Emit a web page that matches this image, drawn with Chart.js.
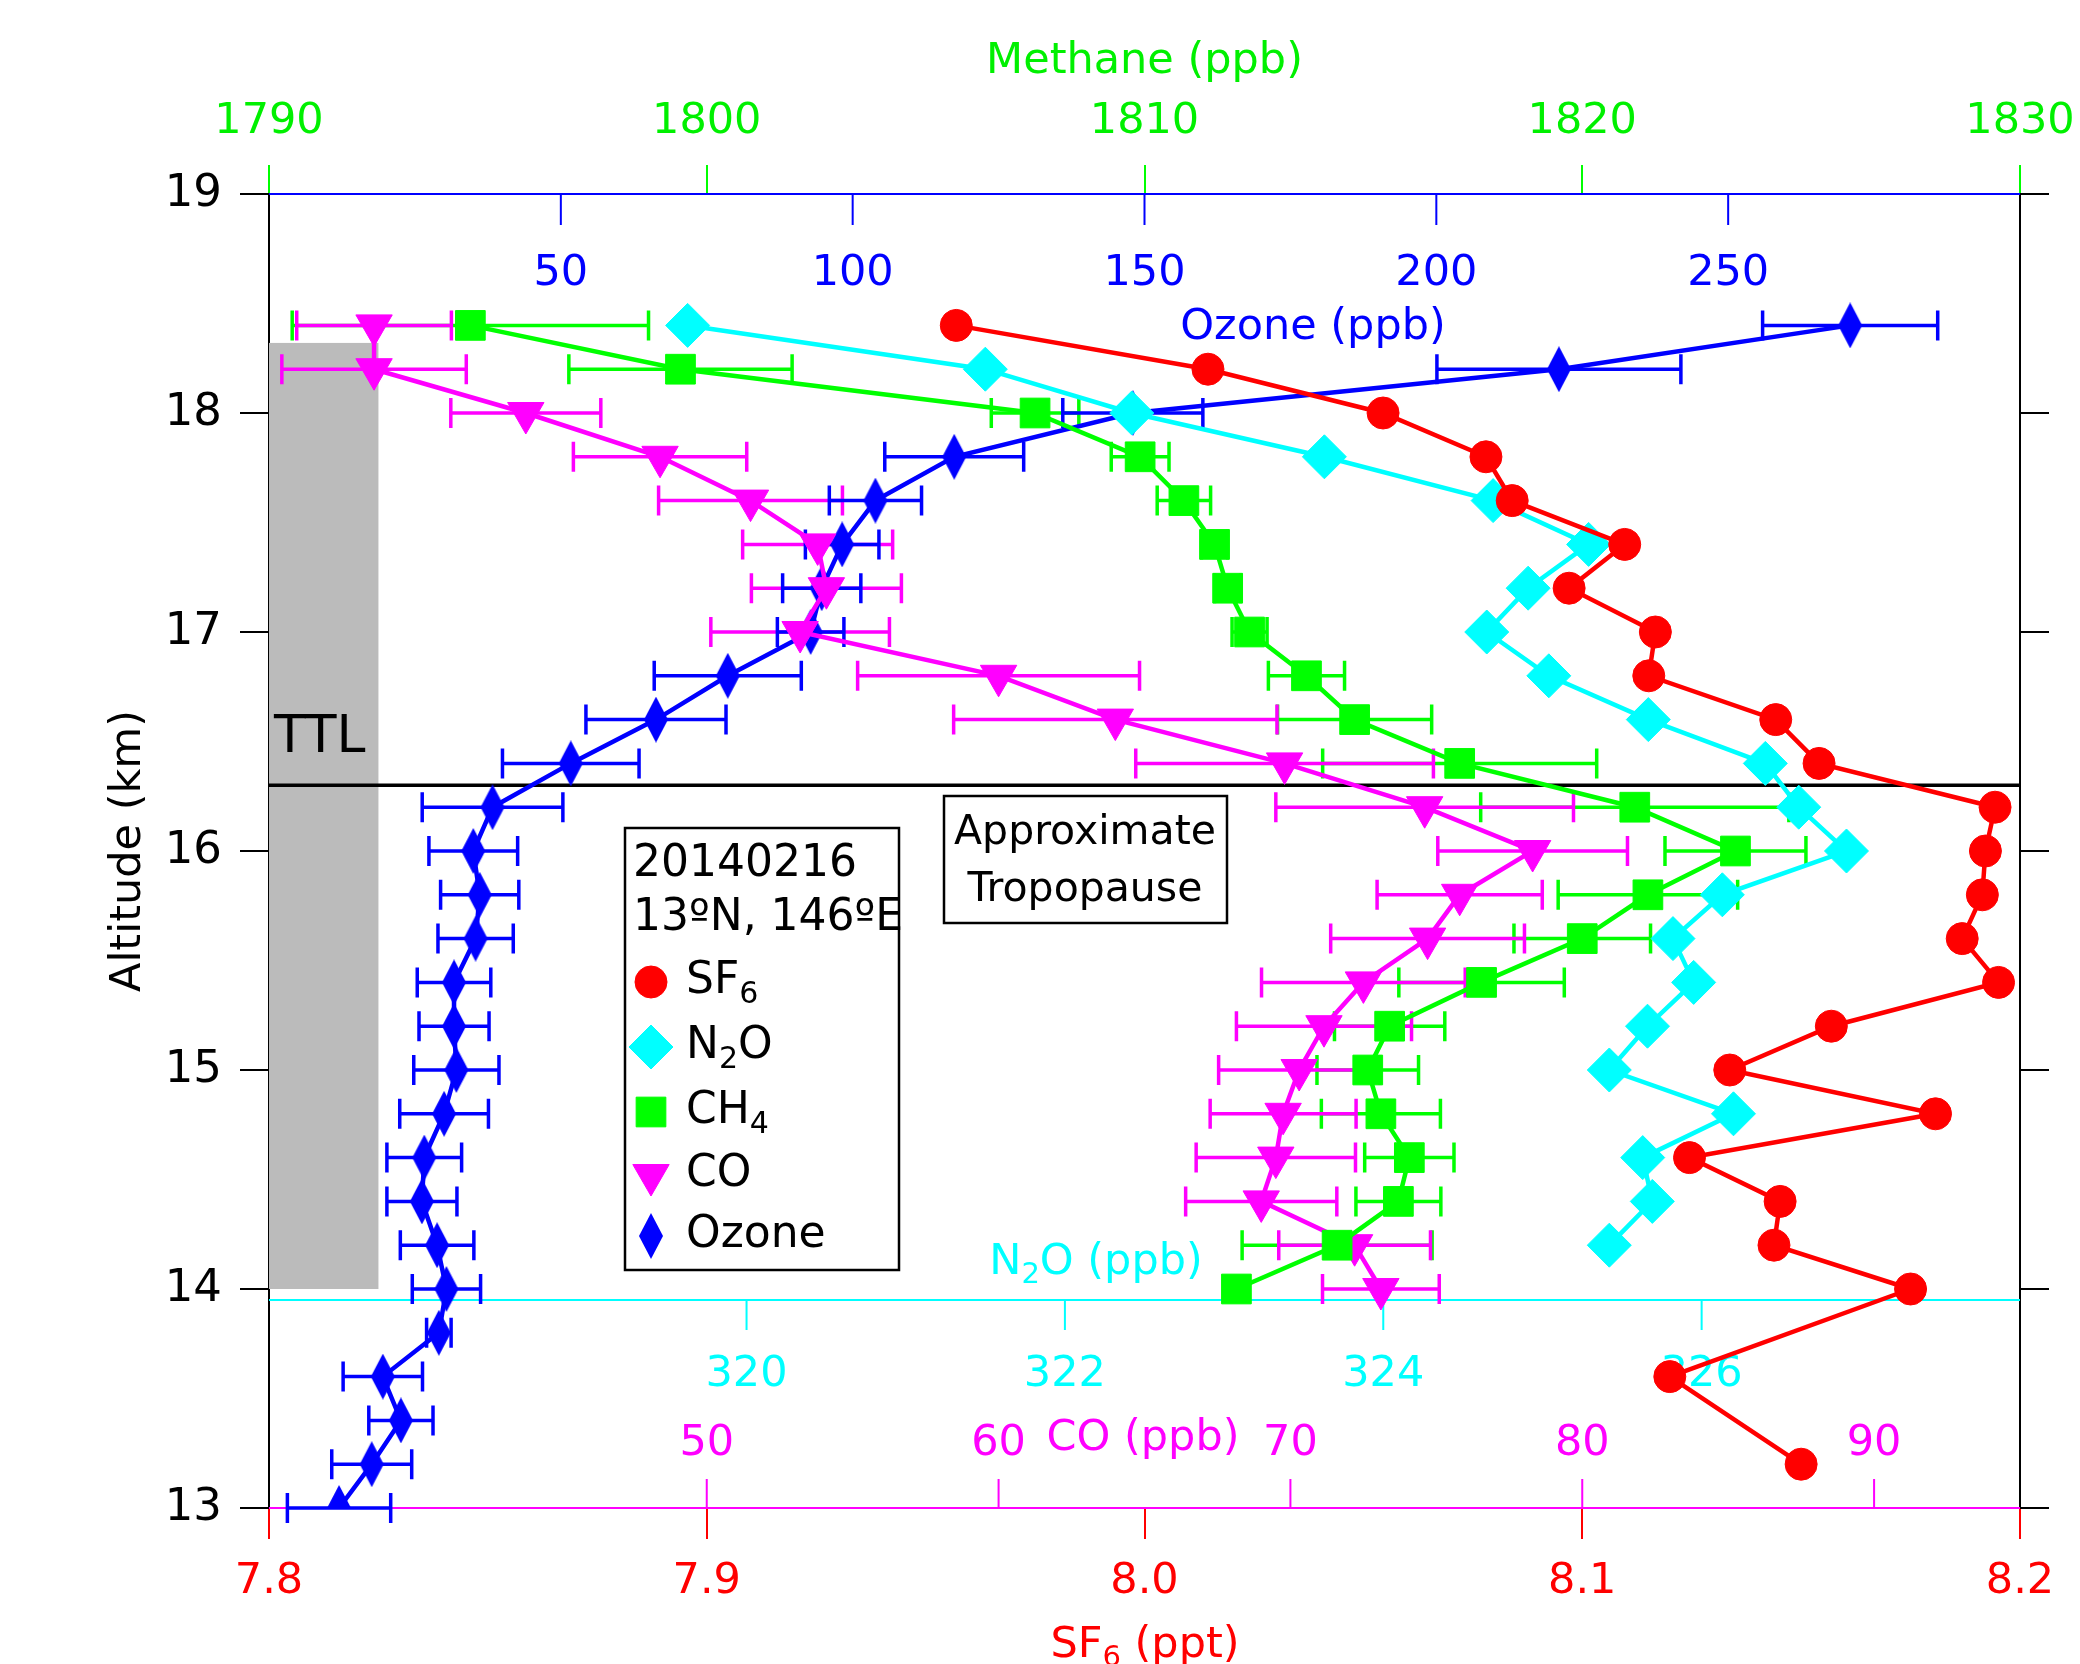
<!DOCTYPE html>
<html><head><meta charset="utf-8">
<script src="https://cdn.jsdelivr.net/npm/chart.js@4.4.1/dist/chart.umd.min.js"></script>
<style>html,body{margin:0;padding:0;background:#fff}#wrap{width:2080px;height:1664px;position:relative}</style>
</head><body><div id="wrap"><canvas id="c" width="2080" height="1664"></canvas></div>
<script>
// ---------------- data ----------------
const altitudes = [18.4,18.2,18.0,17.8,17.6,17.4,17.2,17.0,16.8,16.6,16.4,16.2,16.0,15.8,15.6,15.4,15.2,15.0,14.8,14.6,14.4,14.2,14.0,13.8,13.6,13.4,13.2,13.0];
const sf6 = [7.957,8.0145,8.0545,8.078,8.084,8.1097,8.097,8.1167,8.1152,8.1442,8.1541,8.1943,8.1921,8.1914,8.1868,8.1951,8.1569,8.1337,8.1807,8.1245,8.1452,8.1438,8.175,null,8.12,null,8.15,null];
const n2o = [319.63,321.5,322.42,323.63,324.69,325.29,324.91,324.65,325.04,325.665,326.4,326.61,326.91,326.13,325.82,325.95,325.66,325.42,326.2,325.63,325.69,325.42,null,null,null,null,null,null];
const ch4 = [1794.6,1799.4,1807.5,1809.9,1810.9,1811.6,1811.9,1812.4,1813.7,1814.8,1817.2,1821.2,1823.5,1821.5,1820.0,1817.7,1815.6,1815.1,1815.4,1816.05,1815.8,1814.4,1812.1,null,null,null,null,null];
const ch4Err = [4.07,2.55,1.0,0.66,0.61,0.3,0.3,0.4,0.87,1.76,3.13,3.52,1.61,2.05,1.56,1.89,1.26,1.16,1.36,1.02,0.97,2.17,0,null,null,null,null,null];
const co = [38.6,38.6,43.8,48.4,51.5,53.8,54.1,53.2,60.0,64.0,69.8,74.6,78.3,75.8,74.7,72.5,71.15,70.3,69.75,69.5,69.0,72.2,73.1,null,null,null,null,null];
const coErr = [2.65,3.16,2.57,2.97,3.15,2.57,2.57,3.06,4.83,5.54,5.1,5.1,3.25,2.83,3.32,3.49,3.0,2.76,2.5,2.73,2.59,2.6,2.0,null,null,null,null,null];
const ozone = [270.9,221.0,148.0,117.4,103.9,98.2,94.7,92.8,78.6,66.3,51.7,38.3,35.0,36.1,35.4,31.7,31.7,32.1,30.0,26.6,26.2,28.8,30.4,29.1,19.5,22.6,17.6,12.0];
const ozoneErr = [15.0,20.9,12.0,11.9,7.9,6.3,6.7,5.7,12.6,12.0,11.7,12.05,7.6,6.7,6.45,6.3,6.0,7.3,7.6,6.4,6.0,6.3,5.85,2.1,6.8,5.5,6.85,8.85];

const altitudeTicks = [13,14,15,16,17,18,19];
const methaneTicks = [1790,1800,1810,1820,1830];
const ozoneTicks = [50,100,150,200,250];
const n2oTicks = [320,322,324,326];
const coTicks = [50,60,70,80,90];
const sf6Ticks = [7.8,7.9,8.0,8.1,8.2];

const tropopauseAlt = 16.3;
const n2oAxisAlt = 13.95;
const ttlBand = {sf6From: 7.8, sf6To: 7.825, altFrom: 14.0, altTo: 18.32};

// ---------------- styling ----------------
const FONT = "'DejaVu Sans', sans-serif";
const RED='#ff0000', CYAN='#00ffff', GREEN='#00ff00', MAGENTA='#ff00ff', BLUE='#0000ff';
const TXT_GREEN='#00f000';
Chart.defaults.font.family = FONT;

function pts(vals){ return altitudes.map((a,i)=> vals[i]==null?null:{x:vals[i], y:a}).filter(Boolean); }
function makeDiamond(w,h,color){
  const c=document.createElement('canvas'); c.width=w; c.height=h;
  const g=c.getContext('2d'); g.fillStyle=color; g.beginPath();
  g.moveTo(w/2,0); g.lineTo(w,h/2); g.lineTo(w/2,h); g.lineTo(0,h/2); g.closePath(); g.fill();
  return c;
}
const ozoneMarker = makeDiamond(24,46,BLUE);

function richText(ctx, parts, x, y, size, color, align){
  ctx.save();
  ctx.fillStyle=color; ctx.textBaseline='middle'; ctx.textAlign='left';
  let total=0;
  const widths = parts.map(([t,sub])=>{ ctx.font=(sub?Math.round(size*0.68):size)+'px '+FONT; const w=ctx.measureText(t).width; total+=w; return w; });
  let cx = align==='center'? x-total/2 : (align==='right'? x-total : x);
  parts.forEach(([t,sub],i)=>{ ctx.font=(sub?Math.round(size*0.68):size)+'px '+FONT; ctx.fillText(t, cx, sub? y+size*0.3 : y); cx+=widths[i]; });
  ctx.restore();
}

const seriesStyle = [
  {label:'SF6', vals:sf6, axis:'x', color:RED, style:'circle', r:16, rot:0, name:[['SF',0],['6',1]]},
  {label:'N2O', vals:n2o, axis:'xN2O', color:CYAN, style:'rectRot', r:22, rot:0, name:[['N',0],['2',1],['O',0]]},
  {label:'CH4', vals:ch4, axis:'xCH4', color:GREEN, style:'rect', r:21, rot:0, name:[['CH',0],['4',1]]},
  {label:'CO', vals:co, axis:'xCO', color:MAGENTA, style:'triangle', r:21, rot:180, name:[['CO',0]]},
  {label:'Ozone', vals:ozone, axis:'xO3', color:BLUE, style:ozoneMarker, r:14, rot:0, name:[['Ozone',0]]}
];

const datasets = seriesStyle.map(s=>({
  label:s.label, data:pts(s.vals), xAxisID:s.axis, yAxisID:'y', showLine:true,
  borderColor:s.color, backgroundColor:s.color, borderWidth:4.5,
  pointStyle:s.style, pointRadius:s.r, pointRotation:s.rot,
  pointBackgroundColor:s.color, pointBorderColor:s.color, pointBorderWidth:1
}));

const decor = {
  id:'decor',
  beforeDatasetsDraw(chart){
    const ctx=chart.ctx, a=chart.chartArea, y=chart.scales.y;
    const sx=chart.scales.x;
    ctx.save();
    // TTL band
    ctx.fillStyle='#bbbbbb';
    const bx1=sx.getPixelForValue(ttlBand.sf6From), bx2=sx.getPixelForValue(ttlBand.sf6To);
    const by1=y.getPixelForValue(ttlBand.altTo), by2=y.getPixelForValue(ttlBand.altFrom);
    ctx.fillRect(bx1,by1,bx2-bx1,by2-by1);
    // tropopause
    const ty=y.getPixelForValue(tropopauseAlt);
    ctx.strokeStyle='#000'; ctx.lineWidth=3.5;
    ctx.beginPath(); ctx.moveTo(a.left,ty); ctx.lineTo(a.right,ty); ctx.stroke();
    // ozone axis (top, inside)
    const xo=chart.scales.xO3;
    ctx.strokeStyle=BLUE; ctx.lineWidth=2;
    ctx.beginPath(); ctx.moveTo(a.left,a.top); ctx.lineTo(a.right,a.top);
    ozoneTicks.forEach(v=>{const px=xo.getPixelForValue(v); ctx.moveTo(px,a.top); ctx.lineTo(px,a.top+31);});
    ctx.stroke();
    ctx.fillStyle=BLUE; ctx.font='43px '+FONT; ctx.textAlign='center'; ctx.textBaseline='middle';
    ozoneTicks.forEach(v=>ctx.fillText(String(v), xo.getPixelForValue(v), a.top+80));
    ctx.fillText('Ozone (ppb)', 1313, a.top+134);
    // N2O axis
    const xn=chart.scales.xN2O, ny=y.getPixelForValue(n2oAxisAlt);
    ctx.strokeStyle=CYAN; ctx.lineWidth=2;
    ctx.beginPath(); ctx.moveTo(a.left,ny); ctx.lineTo(a.right,ny);
    n2oTicks.forEach(v=>{const px=xn.getPixelForValue(v); ctx.moveTo(px,ny); ctx.lineTo(px,ny+30);});
    ctx.stroke();
    ctx.fillStyle=CYAN; ctx.font='43px '+FONT;
    n2oTicks.forEach(v=>ctx.fillText(String(v), xn.getPixelForValue(v), ny+75));
    richText(ctx, [['N',0],['2',1],['O (ppb)',0]], 1096, ny-37, 43, CYAN, 'center');
    // CO axis (bottom, inside)
    const xc=chart.scales.xCO;
    ctx.strokeStyle=MAGENTA; ctx.lineWidth=2;
    ctx.beginPath(); ctx.moveTo(a.left,a.bottom); ctx.lineTo(a.right,a.bottom);
    coTicks.forEach(v=>{const px=xc.getPixelForValue(v); ctx.moveTo(px,a.bottom); ctx.lineTo(px,a.bottom-29);});
    ctx.stroke();
    ctx.fillStyle=MAGENTA; ctx.font='43px '+FONT; ctx.textAlign='center';
    coTicks.forEach(v=>ctx.fillText(String(v), xc.getPixelForValue(v), a.bottom-64));
    ctx.fillText('CO (ppb)', 1143, a.bottom-69);
    // error bars
    [[ch4,ch4Err,'xCH4',GREEN],[co,coErr,'xCO',MAGENTA],[ozone,ozoneErr,'xO3',BLUE]].forEach(([vals,errs,axis,col])=>{
      const s=chart.scales[axis];
      ctx.strokeStyle=col; ctx.lineWidth=3.5;
      altitudes.forEach((alt,i)=>{
        if(vals[i]==null||!errs[i]) return;
        const py=y.getPixelForValue(alt);
        const x1=s.getPixelForValue(vals[i]-errs[i]), x2=s.getPixelForValue(vals[i]+errs[i]);
        ctx.beginPath();
        ctx.moveTo(x1,py); ctx.lineTo(x2,py);
        ctx.moveTo(x1,py-15); ctx.lineTo(x1,py+15);
        ctx.moveTo(x2,py-15); ctx.lineTo(x2,py+15);
        ctx.stroke();
      });
    });
    ctx.restore();
  },
  afterDatasetsDraw(chart){
    const ctx=chart.ctx;
    ctx.save();
    // TTL label
    ctx.fillStyle='#000'; ctx.font='52px '+FONT; ctx.textAlign='left'; ctx.textBaseline='middle';
    ctx.fillText('TTL', 274, 738);
    // Approximate tropopause box
    ctx.fillStyle='#fff'; ctx.fillRect(944,796,283,127);
    ctx.strokeStyle='#000'; ctx.lineWidth=2.5; ctx.strokeRect(944,796,283,127);
    ctx.fillStyle='#000'; ctx.font='41px '+FONT; ctx.textAlign='center';
    ctx.fillText('Approximate', 1085, 833);
    ctx.fillText('Tropopause', 1085, 890);
    // legend
    ctx.fillStyle='#fff'; ctx.fillRect(625,828,274,442);
    ctx.strokeRect(625,828,274,442);
    ctx.fillStyle='#000'; ctx.font='44px '+FONT; ctx.textAlign='left';
    ctx.fillText('20140216', 633, 865);
    ctx.fillText('13ºN, 146ºE', 633, 919);
    const rows=[982,1047,1112,1175,1236];
    seriesStyle.forEach((s,i)=>{
      const ry=rows[i];
      ctx.fillStyle=s.color; ctx.strokeStyle=s.color; ctx.lineWidth=1;
      Chart.helpers.drawPoint(ctx,{pointStyle:s.style, radius:s.r, rotation:s.rot, borderWidth:1}, 651, ry);
      richText(ctx, s.name, 686, ry, 44, '#000', 'left');
    });
    // SF6 title
    richText(ctx, [['SF',0],['6',1],[' (ppt)',0]], 1145, 1646, 43, RED, 'center');
    ctx.restore();
  }
};

const noEdgePad = s=>{ s.paddingLeft=0; s.paddingRight=0; };

new Chart(document.getElementById('c'), {
  type:'scatter',
  data:{datasets},
  options:{
    responsive:false, animation:false, devicePixelRatio:1,
    layout:{padding:0},
    plugins:{legend:{display:false}, tooltip:{enabled:false}},
    scales:{
      y:{type:'linear', position:'left', min:13, max:19,
        afterBuildTicks:s=>{s.ticks=altitudeTicks.map(v=>({value:v}));},
        ticks:{color:'#000', font:{size:45}, padding:18},
        grid:{drawOnChartArea:false, drawTicks:true, tickLength:29, color:'#000', lineWidth:2},
        border:{display:true, color:'#000', width:2},
        title:{display:true, text:'Altitude (km)', color:'#000', font:{size:43}, padding:{top:103,bottom:0}},
        afterFit:s=>{s.width=269; s.paddingTop=0; s.paddingBottom=0;}},
      yR:{type:'linear', position:'right', min:13, max:19,
        afterBuildTicks:s=>{s.ticks=altitudeTicks.map(v=>({value:v}));},
        ticks:{display:false},
        grid:{drawOnChartArea:false, drawTicks:true, tickLength:29, color:'#000', lineWidth:2},
        border:{display:true, color:'#000', width:2},
        afterFit:s=>{s.width=60; s.paddingTop=0; s.paddingBottom=0;}},
      xCH4:{type:'linear', position:'top', min:1790, max:1830,
        afterBuildTicks:s=>{s.ticks=methaneTicks.map(v=>({value:v}));},
        ticks:{color:TXT_GREEN, font:{size:43}, padding:17, autoSkip:false, maxRotation:0, callback:v=>String(v)},
        grid:{drawOnChartArea:false, drawTicks:true, tickLength:29, color:GREEN, lineWidth:2},
        border:{display:false},
        title:{display:true, text:'Methane (ppb)', color:TXT_GREEN, font:{size:43}, padding:{top:36,bottom:0}},
        afterFit:s=>{s.height=194; noEdgePad(s);}},
      x:{type:'linear', position:'bottom', min:7.8, max:8.2,
        afterBuildTicks:s=>{s.ticks=sf6Ticks.map(v=>({value:v}));},
        ticks:{color:RED, font:{size:43}, padding:17, autoSkip:false, maxRotation:0, callback:v=>Number(v).toFixed(1)},
        grid:{drawOnChartArea:false, drawTicks:true, tickLength:31, color:RED, lineWidth:2},
        border:{display:false},
        afterFit:s=>{s.height=156; noEdgePad(s);}},
      xO3:{type:'linear', display:false, min:0, max:300},
      xN2O:{type:'linear', display:false, min:317, max:328},
      xCO:{type:'linear', display:false, min:35, max:95}
    }
  },
  plugins:[decor]
});
</script></body></html>
